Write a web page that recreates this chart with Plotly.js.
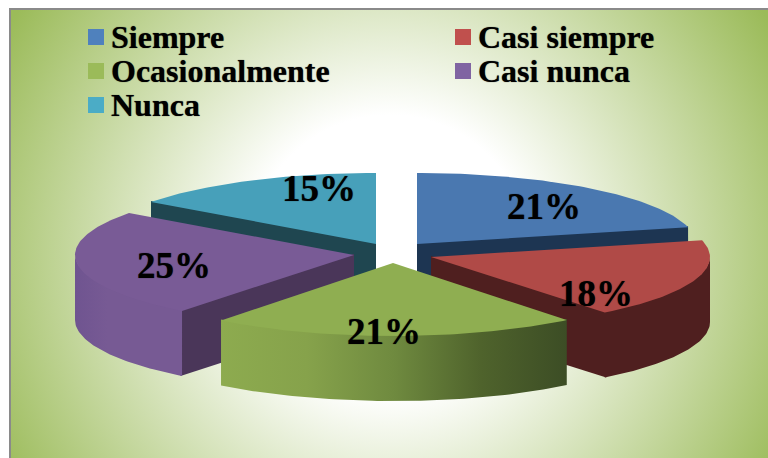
<!DOCTYPE html>
<html>
<head>
<meta charset="utf-8">
<script src="https://cdn.plot.ly/plotly-3.0.1.min.js"></script>
<style>
html,body{margin:0;padding:0;background:#fff;}
#chart{width:768px;height:458px;
background:radial-gradient(circle 445px at 380px 246px,#ffffff 0,#ffffff 140px,#9bbb59 100%) 10px 9px / 758px 449px no-repeat;}
</style>
</head>
<body>
<div id="chart"></div>
<script>
// Data
const categories = ["Siempre","Casi siempre","Ocasionalmente","Casi nunca","Nunca"];
const percentages = [21.2,18.1,21.27,24.5,14.93];

// Styling
const topColors = ["#4a78b0","#b04a47","#8fae51","#795b96","#47a0ba"];
const legendColors = ["#4f81bd","#c0504d","#9bbb59","#8064a2","#4bacc6"];
const cutColors = ["#1d3552","#4f1f1f","#4f6029","#4a3659","#1f4650"];
const outerScales = [
  null,
  [[0,"#4f1f1f"],[1,"#4f1f1f"]],
  [[0,"#8dab4f"],[0.25,"#86a24b"],[0.5,"#6f8a3f"],[0.75,"#4f632c"],[1,"#3c4d25"]],
  [[0,"#6f5490"],[0.3,"#775a94"],[1,"#775a94"]],
  null
];
// Layout (pixel positions of the exploded pieces and labels)
const apexX = [417,431,393,354,376];
const apexY = [244,257,263,255,244];
const radiusX = 279, depth = 65;
const radiusY = [71,71,73,71,71];
const drawOrder = [4,0,3,1,2];
const labelX = [544,596,384,174,319];
const labelY = [206,293,331,265,188];
const legendX = [96,463,96,463,96];
const legendY = [37,37,71,71,105];

const rad = d => d*Math.PI/180;
function px(i,a){return apexX[i]+radiusX*Math.sin(rad(a));}
function py(i,a){return apexY[i]-radiusY[i]*Math.cos(rad(a));}
function arc(i,a0,a1){
  const pts=[]; const n=Math.max(2,Math.ceil(Math.abs(a1-a0)));
  for(let k=0;k<=n;k++){const a=a0+(a1-a0)*k/n; pts.push([px(i,a),py(i,a)]);}
  return pts;
}
function poly(pts,extra){
  return Object.assign({
    type:"scatter",mode:"lines",x:pts.map(p=>p[0]),y:pts.map(p=>p[1]),
    fill:"toself",line:{width:0},hoverinfo:"skip",showlegend:false
  },extra);
}
function cutWall(i,a,color){
  const under = (a>90 && a<270) ? Math.sign(Math.sin(rad(a)))*1.5 : 0; // tuck beneath the outer wall
  const tx=px(i,a)+under,ty=py(i,a),ax=apexX[i],ay=apexY[i];
  return poly([[ax,ay-1],[tx,ty-1],[tx,ty+depth],[ax,ay+depth],[ax,ay-1]],{fillcolor:color});
}

const total = percentages.reduce((s,v)=>s+v,0);
const starts=[],ends=[]; let acc=0;
percentages.forEach((v,i)=>{starts[i]=acc; acc+=v/total*360; ends[i]=acc;});

const traces=[];
drawOrder.forEach(i=>{
  const a0=starts[i],a1=ends[i];
  if(a1>0.5 && a1<179.5) traces.push(cutWall(i,a1,cutColors[i]));
  if(a0>180.5 && a0<359.5) traces.push(cutWall(i,a0,cutColors[i]));
  const f0=Math.max(a0,90),f1=Math.min(a1,270);
  if(f1>f0){
    const topEdge=arc(i,f0,f1);
    const botEdge=topEdge.map(p=>[p[0],p[1]+depth]).reverse();
    const upper=topEdge.map(p=>[p[0],p[1]-1]);
    const pts=upper.concat(botEdge,[upper[0]]);
    const sc=outerScales[i];
    traces.push(poly(pts,{fillcolor:sc[0][1],fillgradient:{type:"horizontal",colorscale:sc}}));
  }
  const pts=[[apexX[i],apexY[i]]].concat(arc(i,a0,a1),[[apexX[i],apexY[i]]]);
  traces.push(poly(pts,{fillcolor:topColors[i],name:categories[i]}));
});

// legend swatches
categories.forEach((c,i)=>{
  traces.push({type:"scatter",mode:"markers",x:[legendX[i]],y:[legendY[i]],
    marker:{symbol:"square",size:16,color:legendColors[i],line:{width:0}},
    hoverinfo:"skip",showlegend:false,name:c});
});

const serif='"Liberation Serif","Times New Roman",serif';
const soft='0 0 1px rgba(0,0,0,0.7)';
const annotations=[];
categories.forEach((c,i)=>{
  annotations.push({x:legendX[i]+13,y:legendY[i],text:c,xref:"x",yref:"y",showarrow:false,
    xanchor:"left",yanchor:"middle",font:{family:serif,size:32,color:"#000",weight:"bold",shadow:soft}});
  annotations.push({x:labelX[i],y:labelY[i],text:Math.round(percentages[i])+"%",xref:"x",yref:"y",showarrow:false,
    xanchor:"center",yanchor:"middle",font:{family:serif,size:37,color:"#000",weight:"bold",shadow:soft}});
});

const layout={
  width:768,height:458,margin:{l:0,r:0,t:0,b:0},
  paper_bgcolor:"rgba(0,0,0,0)",plot_bgcolor:"rgba(0,0,0,0)",
  xaxis:{range:[0,768],visible:false,fixedrange:true},
  yaxis:{range:[458,0],visible:false,fixedrange:true},
  showlegend:false,
  annotations:annotations,
  shapes:[
    {type:"line",xref:"x",yref:"y",x0:10,x1:10,y0:8,y1:458,line:{color:"#8a8a8a",width:2}},
    {type:"line",xref:"x",yref:"y",x0:9,x1:768,y0:9,y1:9,line:{color:"#8a8a8a",width:2}}
  ]
};
Plotly.newPlot("chart",traces,layout,{displayModeBar:false,staticPlot:true});
</script>
</body>
</html>
